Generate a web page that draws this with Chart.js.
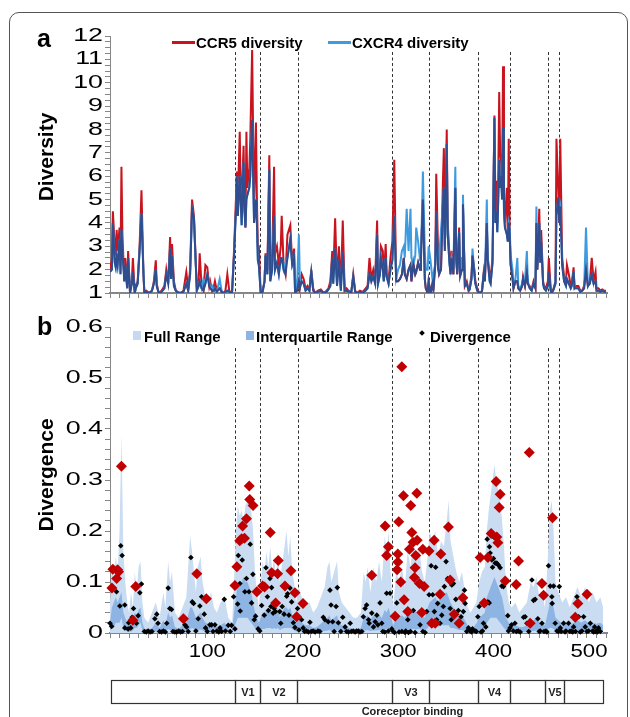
<!DOCTYPE html>
<html>
<head>
<meta charset="utf-8">
<script src="https://cdn.jsdelivr.net/npm/chart.js@4.4.1/dist/chart.umd.min.js"></script>
<style>
  body { margin: 0; background: #fff; width: 630px; height: 717px; overflow: hidden; position: relative;
         font-family: "Liberation Sans", Arial, sans-serif; }
  #frame { position: absolute; left: 9px; top: 12px; width: 619px; height: 740px;
           border: 1.5px solid #555; border-radius: 10px; box-sizing: border-box; }
  canvas { position: absolute; left: 0; }
  #topChart { top: 0; }
  #bottomChart { top: 310px; }
  .txt { position: absolute; white-space: nowrap; line-height: 1; color: #000; }
  .letter { font-weight: bold; font-size: 25px; }
  .ytitle { font-weight: bold; font-size: 21px; transform: translate(-50%, -50%) rotate(-90deg); }
  .leg { font-weight: bold; font-size: 15px; }
  .sw { position: absolute; }
</style>
</head>
<body>
<div id="frame"></div>
<canvas id="topChart" width="630" height="310"></canvas>
<canvas id="bottomChart" width="630" height="407"></canvas>

<div class="txt letter" style="left:37px; top:26px;">a</div>
<div class="txt letter" style="left:37px; top:314px;">b</div>
<div class="txt ytitle" style="left:45px; top:157px;">Diversity</div>
<div class="txt ytitle" style="left:45px; top:475px;">Divergence</div>

<div class="sw" style="left:172px; top:41px; width:23px; height:2.5px; background:#C8141E;"></div>
<div class="txt leg" style="left:196px; top:35px;">CCR5 diversity</div>
<div class="sw" style="left:328px; top:41px; width:23px; height:2.5px; background:#3D9BE0;"></div>
<div class="txt leg" style="left:352px; top:35px;">CXCR4 diversity</div>

<div class="sw" style="left:133px; top:331px; width:8px; height:9px; background:#C5D9F1;"></div>
<div class="txt leg" style="left:144px; top:329px;">Full Range</div>
<div class="sw" style="left:246px; top:331px; width:8px; height:9px; background:#8DB4E2;"></div>
<div class="txt leg" style="left:256px; top:329px;">Interquartile Range</div>
<div class="sw" style="left:419.5px; top:330.5px; width:4px; height:4px; background:#000; transform:rotate(45deg);"></div>
<div class="txt leg" style="left:430px; top:329px;">Divergence</div>

<script>
/* DIVERSITY (panel a) : env position, CCR5 and CXCR4 values */
const TOP_POS = [
  0,2,3,5,6,7,8,10,11,12,
  13,15,16,18,19,21,23,24,26,27,
  29,31,33,35,36,38,41,44,46,48,
  49,51,54,57,59,61,63,64,65,67,
  69,71,74,77,80,82,84,86,88,91,
  93,94,96,98,100,102,104,105,107,109,
  110,112,115,117,119,121,123,125,127,128,
  130,132,133,134,136,137,138,140,141,142,
  143,144,146,147,149,151,153,154,155,156,
  158,160,162,163,165,167,168,170,172,173,
  175,177,179,180,182,184,186,189,191,193,
  194,196,198,199,201,203,205,207,209,211,
  213,215,218,221,224,227,229,231,233,234,
  236,238,240,242,244,246,248,250,253,255,
  257,259,262,265,268,270,272,274,276,278,
  280,281,283,284,286,287,289,290,292,294,
  296,298,300,302,304,306,308,309,311,313,
  315,316,318,320,321,323,325,326,328,330,
  331,333,334,336,338,339,341,342,344,345,
  347,349,350,351,353,354,356,357,358,360,
  362,363,364,366,367,369,370,372,374,376,
  377,379,380,382,383,385,387,389,390,392,
  393,395,396,398,399,401,403,404,405,406,
  407,408,409,410,411,412,413,414,416,417,
  418,419,420,422,423,425,427,428,430,432,
  433,435,437,438,440,442,444,446,447,448,
  450,451,452,454,455,457,459,460,462,463,
  465,467,468,470,471,472,474,476,478,479,
  481,483,484,486,487,489,491,493,495,497,
  499,501,503,505,507,509,510,512,514,516,
  518,520
];
const CCR5 = [
  1.9,2.5,4.5,3.0,2.6,3.7,2.8,3.8,2.2,6.4,
  3.5,1.5,2.5,1.3,2.8,1.0,1.6,2.5,1.0,1.3,
  1.5,3.0,5.4,1.9,1.0,1.1,1.0,1.1,1.5,2.4,
  1.4,1.0,1.1,1.3,2.0,1.4,3.4,1.8,3.1,1.5,
  1.1,1.05,1.0,1.1,1.9,1.2,2.0,5.0,4.3,1.2,
  1.6,2.7,1.3,1.1,2.2,2.1,1.3,1.5,1.1,1.3,
  1.5,1.1,1.2,1.05,1.0,1.1,1.8,1.1,1.0,1.1,
  2.8,5.0,6.2,5.0,7.9,5.5,4.7,7.3,5.0,3.8,
  7.9,5.5,6.3,7.5,11.4,4.5,8.3,5.0,3.0,3.0,
  1.0,1.1,1.5,2.7,2.0,6.9,2.0,2.5,6.4,2.7,
  3.0,2.2,3.0,4.3,2.2,1.8,3.5,3.9,2.3,2.9,
  1.0,1.1,1.5,1.2,1.8,1.6,1.2,1.3,1.1,2.0,
  1.2,1.0,1.1,1.15,1.0,1.1,1.2,1.5,2.8,1.7,
  4.2,1.5,3.0,1.2,4.1,1.1,1.2,1.1,1.05,1.8,
  1.1,1.0,1.1,1.05,1.2,1.3,2.5,1.6,2.0,1.6,
  4.1,1.5,2.2,3.0,2.8,1.6,3.1,1.8,1.5,2.5,
  3.2,6.7,1.5,1.5,1.6,1.8,2.5,1.8,1.6,2.0,
  2.2,1.5,2.3,1.8,1.9,2.3,2.0,2.8,5.0,1.6,
  1.2,1.0,1.5,1.0,1.4,1.1,2.4,6.1,2.6,1.8,
  2.0,5.8,7.2,3.0,8.0,4.0,2.5,1.8,2.8,1.8,
  5.5,2.5,1.8,3.8,1.8,2.0,4.8,1.3,1.5,1.1,
  1.2,1.8,2.6,2.0,1.5,1.2,1.0,1.05,1.1,2.0,
  1.5,4.0,2.5,1.8,1.6,2.5,8.6,4.8,5.8,4.0,
  6.0,9.6,7.0,6.6,5.5,10.7,5.0,4.0,5.5,3.4,
  7.6,3.5,2.2,1.6,1.2,1.5,1.5,1.2,1.1,1.3,
  1.7,1.3,1.9,1.4,1.3,1.15,1.5,1.2,4.0,2.0,
  4.6,2.5,3.7,1.5,1.3,1.2,1.5,2.5,1.2,1.0,
  1.2,1.5,7.6,5.3,4.0,7.6,2.5,1.7,1.5,2.2,
  1.8,1.3,1.4,2.1,1.2,1.3,1.3,1.1,1.1,1.3,
  2.0,1.3,1.5,2.5,1.5,1.9,1.2,1.2,1.1,1.15,
  1.1,1.1
];
const CXCR4 = [
  1.9,2.0,4.0,2.3,2.1,2.5,2.2,3.3,1.8,3.7,
  2.8,1.7,2.2,1.2,2.5,1.2,1.4,1.9,1.0,1.2,
  1.4,2.8,4.4,2.0,1.0,1.05,1.0,1.1,1.4,2.0,
  1.3,1.0,1.05,1.2,1.8,1.5,2.9,1.6,2.6,1.3,
  1.1,1.0,1.0,1.05,1.4,1.1,1.8,4.6,4.2,1.1,
  1.3,1.5,1.2,1.6,1.4,1.8,1.5,1.2,1.3,1.1,
  1.2,1.05,1.6,1.1,1.0,1.05,1.1,1.05,1.0,1.05,
  2.6,4.5,6.0,4.3,6.0,5.0,3.9,6.6,4.5,3.9,
  5.0,5.2,5.5,6.0,8.4,4.0,5.0,4.0,2.4,2.2,
  1.0,1.05,1.5,2.6,1.8,6.3,1.5,2.0,4.3,2.0,
  2.3,1.8,2.5,2.5,2.0,2.3,2.5,3.3,2.2,2.5,
  1.6,1.2,3.5,1.6,1.5,1.4,1.1,1.2,1.1,1.9,
  1.1,1.0,1.05,1.1,1.0,1.05,1.15,1.3,2.5,1.4,
  2.9,1.3,2.4,1.1,2.8,1.1,1.1,1.05,1.1,1.7,
  1.05,1.0,1.05,1.0,1.1,1.2,1.8,1.5,1.7,1.4,
  3.5,1.4,1.8,2.5,2.0,1.5,2.5,1.7,1.4,2.0,
  2.4,4.3,1.6,2.0,2.2,2.8,3.0,2.5,4.6,2.8,
  4.6,2.5,2.2,2.6,3.8,3.2,2.4,2.5,6.2,2.8,
  2.0,2.0,3.0,2.4,1.6,1.8,2.2,4.5,2.0,2.5,
  3.7,4.8,5.5,2.8,7.4,3.5,2.2,2.0,2.5,2.0,
  6.4,2.4,1.9,3.6,1.7,2.5,5.2,1.4,1.4,1.1,
  1.15,1.6,2.9,1.8,1.4,1.1,1.0,1.0,1.1,1.9,
  1.6,5.0,2.4,1.5,1.4,2.3,8.5,4.0,4.5,3.6,
  5.0,6.7,5.5,6.0,5.0,8.1,4.5,3.8,3.5,3.2,
  4.0,3.8,2.6,2.0,1.3,1.6,2.5,1.3,1.2,1.4,
  1.6,1.5,2.8,1.5,1.2,1.1,1.4,1.5,4.7,2.2,
  4.0,2.3,3.2,1.4,1.2,1.1,1.3,1.9,1.1,1.0,
  1.15,1.4,4.3,5.1,4.5,4.7,2.2,1.5,1.3,1.6,
  1.4,1.2,1.3,1.9,1.2,1.2,1.2,1.05,1.1,1.2,
  3.8,1.3,1.4,1.8,1.4,1.5,1.1,1.1,1.05,1.1,
  1.05,1.05
];

/* DIVERGENCE (panel b) : black points */
const DIV_POS = [
  0,1.7,6.8,10.3,11.3,12.7,15.5,15.5,19,19.6,
  21.7,23.2,24.6,27.7,29.5,31.3,33,36,38,40,
  42,44,47,49,50.3,52,54,56,58,59.5,
  61,62.7,64.5,66,68,70,72,74,76,78.5,
  80.3,82,84.8,86.2,87.6,90,92.5,94.2,96,98.8,
  100.2,102,104.7,106.5,108,110,112,114,115.3,117,
  119.8,121,124,126,127.4,129.6,131,133.8,134.5,136.2,
  136.5,138.6,141.4,143,145.7,147,149.8,148.4,151.2,152.6,
  155.3,157,159,161.7,163.5,165,166,167.7,168.7,169.4,
  171,172,173.5,174.6,178,179,180.5,182.5,185.2,186.2,
  187.6,188.7,190.4,192.2,193.9,196.6,198,200.8,202.5,204,
  206,208,209.6,211,213,215,218,220,223.6,225.3,
  228.8,230.6,231.7,233.4,235,237,238.3,239.4,242,244,
  246.5,248,250,251.8,253,255,257,258.5,260.3,262,
  264,265.6,267.4,269,271,271.7,274.4,276.2,278,279.7,
  280.8,283.1,284.9,286,288,290,291.8,293.6,295.4,297,
  298.2,300.6,303,306,309.3,310,312.2,312.9,315,318,
  319.8,325,328,330.3,332,334.5,336.6,338.3,340,341.4,
  342.5,343.5,346,347.8,349.4,350.5,352.3,354,356.6,357.7,
  358.3,360,362.5,365.2,368,370.4,371.6,372.3,374,375.8,
  377.5,379,380,382.8,384,385.6,387,389,390.5,391.5,
  394,395.4,396.1,397.5,397.8,398.5,400.3,401,402,403,
  403.8,405.5,407.3,409,410.7,412.5,417,417.7,419.4,421,
  422.8,424.5,426,428,430,433.5,435.2,437,439,442.3,
  444,445.7,448.5,450,451,452.8,455,457,458,459.7,
  461.5,463.2,463.5,465,466.7,468.5,470,471,472,473,
  475.5,477,478,480.7,482,483.5,485,486,488,489.5,
  491.2,493,494.7,496.5,498.2,500,501.7,503.5,505.9,507,
  508,509,510.5,511,512.2,514
];
const DIV_VAL = [
  0.019,0.013,0.081,0.053,0.171,0.152,0.055,0.01,0.008,0.02,
  0.01,0.031,0.048,0.019,0.034,0.079,0.096,0.003,0.002,0.004,
  0.002,0.003,0.028,0.037,0.019,0.003,0.002,0.004,0.002,0.019,
  0.088,0.048,0.046,0.003,0.002,0.002,0.004,0.002,0.003,0.016,
  0.012,0.003,0.148,0.061,0.058,0.004,0.028,0.053,0.071,0.037,
  0.01,0.003,0.016,0.016,0.003,0.016,0.004,0.002,0.01,0.003,
  0.066,0.004,0.015,0.003,0.015,0.071,0.008,0.057,0.152,0.097,
  0.043,0.143,0.081,0.107,0.081,0.174,0.115,0.059,0.026,0.033,
  0.008,0.004,0.054,0.035,0.128,0.071,0.044,0.107,0.052,0.089,
  0.039,0.048,0.042,0.058,0.042,0.019,0.052,0.037,0.072,0.077,
  0.035,0.088,0.061,0.02,0.011,0.048,0.006,0.026,0.01,0.003,
  0.004,0.002,0.021,0.003,0.004,0.002,0.004,0.003,0.031,0.026,
  0.022,0.084,0.055,0.022,0.003,0.052,0.089,0.02,0.003,0.031,
  0.012,0.003,0.002,0.019,0.003,0.004,0.002,0.004,0.004,0.002,
  0.003,0.032,0.048,0.055,0.026,0.019,0.039,0.012,0.022,0.035,
  0.016,0.059,0.019,0.003,0.002,0.078,0.004,0.078,0.008,0.003,
  0.001,0.059,0.002,0.003,0.001,0.004,0.026,0.001,0.003,0.044,
  0.001,0.016,0.003,0.001,0.042,0.075,0.132,0.075,0.042,0.129,
  0.026,0.058,0.019,0.035,0.052,0.091,0.14,0.107,0.048,0.026,
  0.094,0.097,0.066,0.044,0.032,0.042,0.084,0.058,0.003,0.01,
  0.004,0.002,0.008,0.004,0.003,0.032,0.052,0.002,0.004,0.019,
  0.012,0.184,0.061,0.059,0.169,0.157,0.143,0.129,0.146,0.187,
  0.137,0.137,0.133,0.128,0.092,0.091,0.034,0.004,0.01,0.016,
  0.004,0.019,0.003,0.004,0.002,0.031,0.032,0.019,0.003,0.104,
  0.064,0.066,0.028,0.003,0.004,0.019,0.003,0.004,0.002,0.132,
  0.092,0.071,0.058,0.092,0.019,0.004,0.003,0.091,0.01,0.003,
  0.019,0.002,0.004,0.019,0.003,0.004,0.002,0.012,0.003,0.071,
  0.032,0.002,0.004,0.032,0.012,0.003,0.004,0.019,0.004,0.002,
  0.012,0.003,0.004,0.002,0.01,0.003
];

/* DIVERGENCE (panel b) : red highlighted points */
const OUT_POS = [
  2,3,7,8,9,12,24,27,77,91,
  101,131,133,136,138,141,139,143,146,146.5,
  150,154,160,162,168,169.5,173.6,175.7,176.4,183.4,
  189.7,193.9,195.7,202.3,274.4,288.4,290,291.8,298.9,301.7,
  301.7,301,302.7,305.9,304.8,307.6,308.3,312.2,313.9,315.3,
  316.4,317.7,319.1,319.8,320.5,321.6,322,324.4,326.9,327.9,
  329.3,334.5,337.3,340.8,339.8,346,346.8,354.8,356.6,360.8,
  366,369.9,388,392.3,396.1,399.6,404.8,405.5,406.6,409,
  408,414.3,425.8,428.3,439.5,440.5,452.8,454.5,463.9,487.7,
  490.5,500
];
const OUT_VAL = [
  0.088,0.125,0.107,0.124,0.12,0.327,0.025,0.091,0.028,0.116,
  0.067,0.093,0.13,0.181,0.185,0.186,0.21,0.224,0.288,0.262,
  0.25,0.081,0.092,0.09,0.197,0.118,0.059,0.116,0.142,0.092,
  0.122,0.079,0.032,0.058,0.113,0.21,0.152,0.169,0.033,0.155,
  0.139,0.124,0.218,0.522,0.1,0.269,0.065,0.042,0.164,0.25,
  0.197,0.178,0.109,0.128,0.152,0.274,0.182,0.097,0.04,0.164,
  0.091,0.161,0.019,0.019,0.182,0.076,0.155,0.208,0.104,0.037,
  0.019,0.069,0.148,0.059,0.148,0.195,0.297,0.188,0.177,0.272,
  0.246,0.102,0.095,0.141,0.354,0.019,0.097,0.074,0.226,0.031,
  0.058,0.076
];

/* DIVERGENCE (panel b) : full range and interquartile range */
const BAND_POS = [
  0,2,4,6,8,10,12,14,16,18,
  20,22,24,26,28,30,32,34,36,40,
  44,48,52,56,58,61,63,65,68,72,
  76,80,84,86,88,90,92,95,97,100,
  103,106,109,112,116,120,124,128,130,132,
  134,136,138,140,142,144,146,148,150,152,
  154,156,158,160,162,164,166,168,170,172,
  174,176,178,180,183,185,187,189,191,193,
  195,198,201,205,209,213,217,221,225,228,
  230,232,235,238,240,243,247,251,255,259,
  263,266,268,270,273,276,279,282,285,288,
  290,292,294,297,300,303,306,309,312,315,
  318,321,324,327,330,333,335,338,341,344,
  347,350,353,355,357,360,363,366,369,372,
  375,378,381,384,387,390,393,395,397,399,
  401,403,405,407,409,411,413,415,418,421,
  425,429,433,437,441,444,447,450,453,456,
  459,461,463,465,467,470,474,478,482,486,
  490,494,498,502,506,510,514,517
];
const FULL_MAX = [
  0.06,0.14,0.10,0.15,0.12,0.2,0.39,0.16,0.10,0.06,
  0.04,0.08,0.05,0.12,0.08,0.13,0.14,0.06,0.03,0.02,
  0.04,0.06,0.03,0.08,0.05,0.14,0.1,0.12,0.04,0.03,
  0.05,0.07,0.19,0.16,0.12,0.08,0.13,0.15,0.1,0.07,
  0.06,0.08,0.05,0.04,0.06,0.07,0.03,0.02,0.1,0.2,
  0.25,0.23,0.24,0.22,0.25,0.26,0.27,0.24,0.2,0.12,
  0.08,0.05,0.1,0.14,0.12,0.16,0.13,0.17,0.12,0.15,
  0.11,0.16,0.1,0.13,0.17,0.2,0.15,0.19,0.12,0.1,
  0.06,0.09,0.07,0.05,0.06,0.04,0.05,0.07,0.09,0.13,
  0.14,0.1,0.12,0.14,0.08,0.06,0.05,0.04,0.03,0.03,
  0.04,0.12,0.1,0.13,0.08,0.13,0.1,0.14,0.1,0.19,
  0.16,0.2,0.12,0.05,0.12,0.1,0.13,0.09,0.16,0.13,
  0.18,0.14,0.17,0.12,0.1,0.15,0.2,0.18,0.2,0.15,
  0.18,0.17,0.22,0.26,0.18,0.15,0.12,0.1,0.12,0.08,
  0.05,0.04,0.05,0.06,0.1,0.12,0.13,0.2,0.24,0.27,
  0.3,0.33,0.3,0.28,0.26,0.22,0.17,0.1,0.06,0.05,
  0.06,0.04,0.05,0.06,0.1,0.09,0.11,0.07,0.08,0.05,
  0.15,0.24,0.26,0.2,0.1,0.08,0.06,0.07,0.05,0.07,
  0.09,0.07,0.09,0.06,0.08,0.06,0.07,0.05
];
const IQR_LO = [
  0.005,0.01,0.01,0.02,0.02,0.02,0.03,0.01,0.005,0.003,
  0.002,0.003,0.005,0.01,0.01,0.015,0.02,0.005,0.001,0.001,
  0.001,0.003,0.002,0.004,0.003,0.008,0.006,0.005,0.002,0.001,
  0.002,0.003,0.008,0.01,0.008,0.005,0.006,0.007,0.005,0.003,
  0.003,0.003,0.002,0.002,0.002,0.003,0.001,0.001,0.01,0.02,
  0.03,0.03,0.03,0.03,0.03,0.03,0.025,0.02,0.015,0.01,
  0.005,0.003,0.005,0.008,0.008,0.01,0.01,0.01,0.008,0.01,
  0.008,0.01,0.006,0.008,0.01,0.01,0.01,0.01,0.008,0.005,
  0.003,0.004,0.003,0.002,0.002,0.001,0.002,0.003,0.004,0.005,
  0.006,0.004,0.005,0.006,0.004,0.003,0.002,0.002,0.001,0.001,
  0.002,0.005,0.005,0.006,0.004,0.005,0.005,0.006,0.005,0.008,
  0.008,0.01,0.006,0.003,0.005,0.005,0.006,0.005,0.007,0.006,
  0.008,0.007,0.008,0.006,0.005,0.01,0.015,0.015,0.015,0.012,
  0.015,0.015,0.015,0.015,0.01,0.01,0.008,0.006,0.006,0.004,
  0.002,0.002,0.002,0.003,0.005,0.006,0.008,0.02,0.025,0.03,
  0.03,0.03,0.03,0.025,0.02,0.015,0.01,0.006,0.003,0.002,
  0.002,0.002,0.002,0.003,0.004,0.004,0.005,0.003,0.003,0.002,
  0.008,0.01,0.01,0.008,0.005,0.004,0.003,0.003,0.002,0.003,
  0.004,0.003,0.004,0.003,0.003,0.003,0.003,0.002
];
const IQR_HI = [
  0.02,0.05,0.06,0.07,0.06,0.07,0.08,0.04,0.03,0.02,
  0.015,0.02,0.025,0.04,0.035,0.045,0.05,0.02,0.008,0.006,
  0.01,0.02,0.01,0.025,0.015,0.04,0.03,0.035,0.012,0.008,
  0.015,0.02,0.05,0.05,0.04,0.03,0.035,0.04,0.03,0.02,
  0.018,0.02,0.015,0.012,0.015,0.02,0.008,0.006,0.04,0.07,
  0.1,0.09,0.1,0.11,0.1,0.1,0.09,0.08,0.06,0.04,
  0.03,0.02,0.03,0.04,0.035,0.045,0.04,0.05,0.04,0.045,
  0.035,0.05,0.03,0.04,0.05,0.05,0.045,0.05,0.035,0.03,
  0.02,0.025,0.02,0.015,0.015,0.01,0.012,0.018,0.025,0.03,
  0.035,0.025,0.03,0.035,0.02,0.015,0.012,0.01,0.008,0.008,
  0.01,0.03,0.03,0.035,0.025,0.035,0.03,0.035,0.03,0.045,
  0.04,0.05,0.035,0.015,0.03,0.03,0.035,0.03,0.04,0.035,
  0.045,0.04,0.045,0.035,0.03,0.05,0.06,0.065,0.07,0.06,
  0.07,0.075,0.08,0.07,0.06,0.05,0.04,0.03,0.035,0.025,
  0.015,0.012,0.012,0.018,0.03,0.035,0.04,0.07,0.08,0.09,
  0.1,0.11,0.1,0.09,0.08,0.07,0.05,0.03,0.02,0.015,
  0.015,0.012,0.012,0.015,0.025,0.025,0.03,0.02,0.02,0.015,
  0.04,0.06,0.06,0.05,0.03,0.025,0.018,0.02,0.015,0.02,
  0.025,0.02,0.025,0.018,0.02,0.018,0.02,0.015
];

/* REGIONS */
const BOUNDARIES = [131, 157, 197, 296, 334, 386, 419, 459, 471];
const REGION_EDGES = [1, 131.5, 157.5, 196.5, 296, 334, 386, 419, 456, 476, 517];
const REGION_LABELS = ['', 'V1', 'V2', '', 'V3', '', 'V4', '', 'V5', ''];
const BINDING_LABEL = 'Coreceptor binding';
const BINDING_AT = 317;
const X_LABELS = [100, 200, 300, 400, 500];

const RED = '#C8141E';
const LIGHT_BLUE = '#3D9BE0';
const NAVY = '#2F4D8F';
const FULL_COLOR = '#C9DCF2';
const IQR_COLOR = '#8DB4E2';
const AXIS_GREY = '#868686';
const TICK_FONT = '18.5px "Liberation Sans", Arial, sans-serif';
const Y_STRETCH = 1.45;
const X_STRETCH = 1.2;

Chart.defaults.font.family = '"Liberation Sans", Arial, sans-serif';
Chart.defaults.color = '#000';

function points(xs, ys) {
    return xs.map((x, i) => ({ x: x, y: ys[i] }));
}

function xAxis(height, showLabels) {
    return {
        type: 'linear',
        min: 0,
        max: 521,
        afterFit: s => { s.height = height; },
        ticks: {
            stepSize: 10,
            autoSkip: false,
            maxRotation: 0,
            includeBounds: false,
            color: 'transparent',
            font: { size: 18 },
            callback: v => (showLabels && X_LABELS.includes(v)) ? String(v) : ''
        },
        grid: { drawOnChartArea: false, drawTicks: true, tickLength: 5, color: AXIS_GREY },
        border: { color: AXIS_GREY, width: 2 }
    };
}

function yAxis(min, max, step, label) {
    return {
        min: min, max: max,
        afterFit: s => { s.width = 60; },
        ticks: { stepSize: step, autoSkip: false, color: 'transparent', font: { size: 18 }, callback: label },
        grid: { drawOnChartArea: false, tickLength: 5, color: AXIS_GREY },
        border: { color: AXIS_GREY }
    };
}

/* tick labels, drawn a little wide like the original figure */
const wideTicks = {
    id: 'wideTicks',
    afterDraw(chart) {
        const { ctx, scales: { x, y } } = chart;
        ctx.save();
        ctx.fillStyle = '#000';
        ctx.font = TICK_FONT;
        ctx.textBaseline = 'middle';
        y.ticks.forEach(t => {
            if (!t.label) return;
            ctx.save();
            ctx.translate(y.right - 7, y.getPixelForValue(t.value));
            ctx.scale(Y_STRETCH, 1);
            ctx.textAlign = 'right';
            ctx.fillText(t.label, 0, 0);
            ctx.restore();
        });
        x.ticks.forEach(t => {
            if (!t.label) return;
            ctx.save();
            ctx.translate(x.getPixelForValue(t.value) + 2, x.top + 19);
            ctx.scale(X_STRETCH, 1);
            ctx.textAlign = 'center';
            ctx.fillText(t.label, 0, 0);
            ctx.restore();
        });
        ctx.restore();
    }
};

/* dashed region lines */
const dashedLines = {
    id: 'dashedLines',
    beforeDatasetsDraw(chart, args, opts) {
        const { ctx, scales: { x, y } } = chart;
        ctx.save();
        ctx.setLineDash([3, 2.5]);
        ctx.strokeStyle = '#333';
        ctx.lineWidth = 1;
        BOUNDARIES.forEach(b => {
            const px = Math.round(x.getPixelForValue(b)) + 0.5;
            ctx.beginPath();
            ctx.moveTo(px, opts.top);
            ctx.lineTo(px, y.bottom);
            ctx.stroke();
        });
        ctx.restore();
    }
};

/* region bar under panel b */
const regionBar = {
    id: 'regionBar',
    afterDraw(chart) {
        const { ctx, scales: { x } } = chart;
        const top = 370.5, h = 23;
        ctx.save();
        ctx.strokeStyle = '#333';
        ctx.lineWidth = 1.2;
        ctx.fillStyle = '#222';
        ctx.font = 'bold 11px "Liberation Sans", Arial, sans-serif';
        ctx.textAlign = 'center';
        ctx.textBaseline = 'middle';
        for (let i = 0; i < REGION_LABELS.length; i++) {
            const x0 = Math.round(x.getPixelForValue(REGION_EDGES[i])) + 0.5;
            const x1 = Math.round(x.getPixelForValue(REGION_EDGES[i + 1])) + 0.5;
            ctx.strokeRect(x0, top, x1 - x0, h);
            if (REGION_LABELS[i]) ctx.fillText(REGION_LABELS[i], (x0 + x1) / 2, top + h / 2 + 1);
        }
        ctx.fillText(BINDING_LABEL, x.getPixelForValue(BINDING_AT), 402);
        ctx.restore();
    }
};

/* PANEL A */
new Chart(document.getElementById('topChart'), {
    type: 'line',
    data: {
        datasets: [
            {
                label: 'overlap',
                data: points(TOP_POS, TOP_POS.map((_, i) => Math.min(CCR5[i], CXCR4[i]))),
                borderColor: NAVY, borderWidth: 2, pointRadius: 0, tension: 0
            },
            {
                label: 'CXCR4 diversity',
                data: points(TOP_POS, CXCR4),
                borderColor: LIGHT_BLUE, borderWidth: 2, pointRadius: 0, tension: 0
            },
            {
                label: 'CCR5 diversity',
                data: points(TOP_POS, CCR5),
                borderColor: RED, borderWidth: 2, pointRadius: 0, tension: 0
            }
        ]
    },
    options: {
        responsive: false,
        animation: false,
        layout: { padding: { left: 50, right: 23, top: 36, bottom: 7 } },
        plugins: { legend: { display: false }, tooltip: { enabled: false }, dashedLines: { top: 52 } },
        scales: {
            x: xAxis(10, false),
            y: yAxis(1, 12, 0.25, v => Number.isInteger(v) ? String(v) : '')
        }
    },
    plugins: [dashedLines, wideTicks]
});

/* PANEL B */
new Chart(document.getElementById('bottomChart'), {
    type: 'line',
    data: {
        datasets: [
            {
                type: 'scatter', label: 'high divergence',
                data: points(OUT_POS, OUT_VAL),
                pointStyle: 'rectRot', pointRadius: 5.5, backgroundColor: '#C00000',
                borderColor: '#C00000', borderWidth: 0, clip: false
            },
            {
                type: 'scatter', label: 'Divergence',
                data: points(DIV_POS, DIV_VAL),
                pointStyle: 'rectRot', pointRadius: 2.8, backgroundColor: '#000',
                borderColor: '#000', borderWidth: 0, clip: false
            },
            {
                label: 'Interquartile Range',
                data: points(BAND_POS, IQR_HI),
                fill: 3, backgroundColor: IQR_COLOR, borderColor: 'transparent',
                borderWidth: 0, pointRadius: 0, tension: 0
            },
            {
                label: 'iqr low',
                data: points(BAND_POS, IQR_LO),
                fill: false, borderColor: 'transparent', borderWidth: 0, pointRadius: 0
            },
            {
                label: 'Full Range',
                data: points(BAND_POS, FULL_MAX),
                fill: 'origin', backgroundColor: FULL_COLOR, borderColor: 'transparent',
                borderWidth: 0, pointRadius: 0, tension: 0
            }
        ]
    },
    options: {
        responsive: false,
        animation: false,
        layout: { padding: { left: 50, right: 23, top: 17, bottom: 0 } },
        plugins: { legend: { display: false }, tooltip: { enabled: false }, dashedLines: { top: 38 } },
        scales: {
            x: xAxis(84, true),
            y: yAxis(0, 0.6, 0.02, v => {
                const t = Math.round(v * 100);
                if (t % 10 !== 0) return '';
                return t === 0 ? '0' : (t / 100).toFixed(1);
            })
        }
    },
    plugins: [dashedLines, regionBar, wideTicks]
});
</script>
</body>
</html>
